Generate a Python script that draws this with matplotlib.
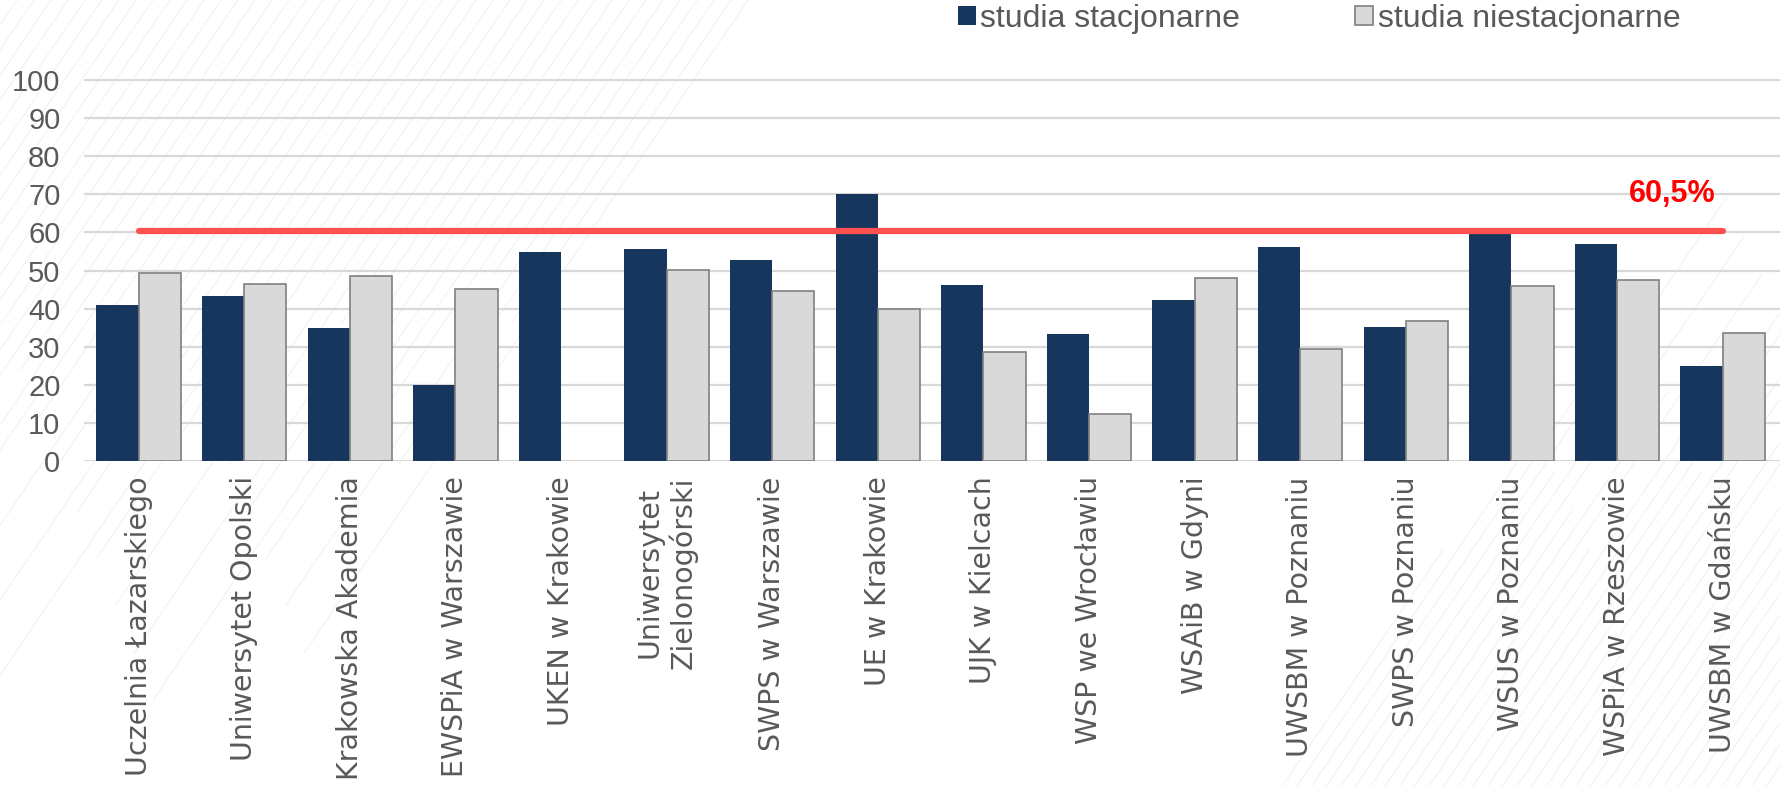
import numpy as np
import matplotlib
matplotlib.use("Agg")
import matplotlib.pyplot as plt
from matplotlib.lines import Line2D

# dane
uczelnie = ["Uczelnia Łazarskiego", "Uniwersytet Opolski", "Krakowska Akademia",
            "EWSPiA w Warszawie", "UKEN w Krakowie", "Uniwersytet\nZielonogórski",
            "SWPS w Warszawie", "UE w Krakowie", "UJK w Kielcach", "WSP we Wrocławiu",
            "WSAiB w Gdyni", "UWSBM w Poznaniu", "SWPS w Poznaniu", "WSUS w Poznaniu",
            "WSPiA w Rzeszowie", "UWSBM w Gdańsku"]
stacjonarne = [41.0, 43.2, 34.9, 19.9, 54.8, 55.7, 52.9, 70.0, 46.1, 33.3,
               42.2, 56.1, 35.2, 60.8, 57.0, 24.9]
niestacjonarne = [49.4, 46.6, 48.7, 45.2, 0, 50.2, 44.7, 39.9, 28.6, 12.4,
                  48.1, 29.4, 36.8, 46.0, 47.4, 33.5]
srednia = 60.5
srednia_txt = "60,5%"
y_ticks = list(range(0, 101, 10))

narrow = ["Liberation Sans Narrow", "Liberation Sans", "DejaVu Sans"]
wide = ["DejaVu Sans"]

fig = plt.figure(figsize=(17.81, 7.86), dpi=100)
fig.patch.set_facecolor("white")

# tlo - smugi (lewy gorny i prawy dolny rog)
for i, top in enumerate(np.linspace(0.0, 0.42, 45)):
    L = 0.35 + 0.6 * ((i * 7) % 10) / 10
    fig.add_artist(Line2D([top, top - 0.3 * L], [1.0, 1.0 - L], color="#a0a0a0",
                          alpha=0.13, lw=0.9, zorder=0))
for i, bot in enumerate(np.linspace(0.72, 1.0, 35)):
    L = 0.3 + 0.5 * ((i * 3) % 10) / 10
    fig.add_artist(Line2D([bot, bot + 0.3 * L], [0.0, L], color="#a0a0a0",
                          alpha=0.13, lw=0.9, zorder=0))

ax = fig.add_axes([84 / 1781, 1 - 461 / 786, 1 - 84 / 1781, (461 - 79) / 786])
ax.set_facecolor("none")

x = np.arange(len(uczelnie))
w = 0.4
ax.bar(x - w / 2, stacjonarne, w, color="#17365d", label="studia stacjonarne", zorder=3)
jasne = ax.bar(x + w / 2, niestacjonarne, w, color="#d9d9d9", edgecolor="#808080",
               linewidth=1.2, label="studia niestacjonarne", zorder=3)
for p, v in zip(jasne.patches, niestacjonarne):
    if v == 0:
        p.set_visible(False)

ax.plot(x, [srednia] * len(x), color="#ff5050", lw=4.5, solid_capstyle="round", zorder=4)
ax.text(14.52, 70.2, srednia_txt, color="#ff0000", fontsize=22, fontweight="bold",
        ha="center", va="center", family=narrow)

ax.set_xlim(-0.517, 15.553)
ax.set_ylim(0, 100.3)
ax.set_yticks(y_ticks)
ax.yaxis.grid(True, color="#d9d9d9", lw=1.6, zorder=0)
for s in ax.spines.values():
    s.set_visible(False)
ax.tick_params(axis="both", length=0)
ax.tick_params(axis="y", labelsize=21, labelcolor="#595959", pad=17)
for lab in ax.get_yticklabels():
    lab.set_family(narrow)

ax.set_xticks(x)
ax.set_xticklabels(uczelnie, rotation=90, fontsize=20.5, color="#595959",
                   family=wide, va="top", ha="center", multialignment="center")
ax.tick_params(axis="x", pad=11)

fig.legend(loc="upper left", bbox_to_anchor=(958 / 1781, 1 - 4 / 786), ncol=2,
           frameon=False, borderpad=0, borderaxespad=0, handlelength=0.55,
           handleheight=0.55, handletextpad=0.15, columnspacing=3.6,
           prop={"family": narrow, "size": 23}, labelcolor="#595959")

fig.savefig("out.png", dpi=100, facecolor="white")
